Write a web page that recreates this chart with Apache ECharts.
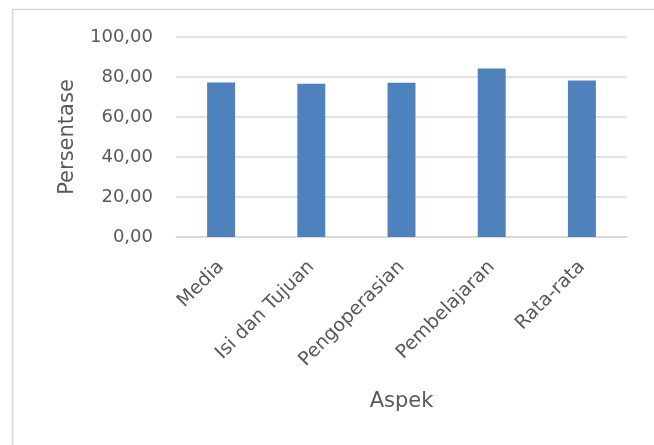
<!DOCTYPE html>
<html>
<head>
<meta charset="utf-8">
<script src="https://cdn.jsdelivr.net/npm/echarts@6/dist/echarts.min.js"></script>
<style>
html,body{margin:0;padding:0;background:#fff;}
#chart{width:654px;height:445px;}
</style>
</head>
<body>
<div id="chart"></div>
<script>
const categories = ['Media', 'Isi dan Tujuan', 'Pengoperasian', 'Pembelajaran', 'Rata-rata'];
const values = [77.2, 76.6, 77.1, 84.3, 78.2];
const yTicks = [0, 20, 40, 60, 80, 100];
const xTitle = 'Aspek';
const yTitle = 'Persentase';

const chart = echarts.init(document.getElementById('chart'), null, {renderer: 'canvas'});
const textColor = '#595959';
const font = 'DejaVu Sans';
chart.setOption({
  animation: false,
  backgroundColor: '#fff',
  graphic: [{
    type: 'rect',
    shape: {x: 12.5, y: 9.5, width: 700, height: 500},
    style: {fill: 'none', stroke: '#d9d9d9', lineWidth: 1.5},
    silent: true
  }],
  grid: {left: 176, right: 27, top: 37, bottom: 208, containLabel: false},
  xAxis: {
    type: 'category',
    data: categories,
    name: xTitle,
    nameLocation: 'middle',
    nameGap: 154,
    nameTextStyle: {color: textColor, fontSize: 21, fontFamily: font},
    axisLine: {show: true, lineStyle: {color: '#d9d9d9', width: 1.5}},
    axisTick: {show: false},
    axisLabel: {
      rotate: 45,
      interval: 0,
      margin: 27,
      color: textColor,
      fontSize: 19,
      fontFamily: font
    }
  },
  yAxis: {
    type: 'value',
    min: yTicks[0],
    max: yTicks[yTicks.length - 1],
    interval: yTicks[1] - yTicks[0],
    name: yTitle,
    nameLocation: 'middle',
    nameGap: 98,
    nameTextStyle: {color: textColor, fontSize: 21, fontFamily: font},
    axisLine: {show: false},
    axisTick: {show: false},
    splitLine: {lineStyle: {color: '#d9d9d9', width: 1.5}},
    axisLabel: {
      margin: 23,
      color: textColor,
      fontSize: 18,
      fontFamily: font,
      formatter: v => v.toFixed(2).replace('.', ',')
    }
  },
  series: [{
    type: 'bar',
    data: values,
    barWidth: '31%',
    itemStyle: {color: '#4f81bd'}
  }]
});
</script>
</body>
</html>
